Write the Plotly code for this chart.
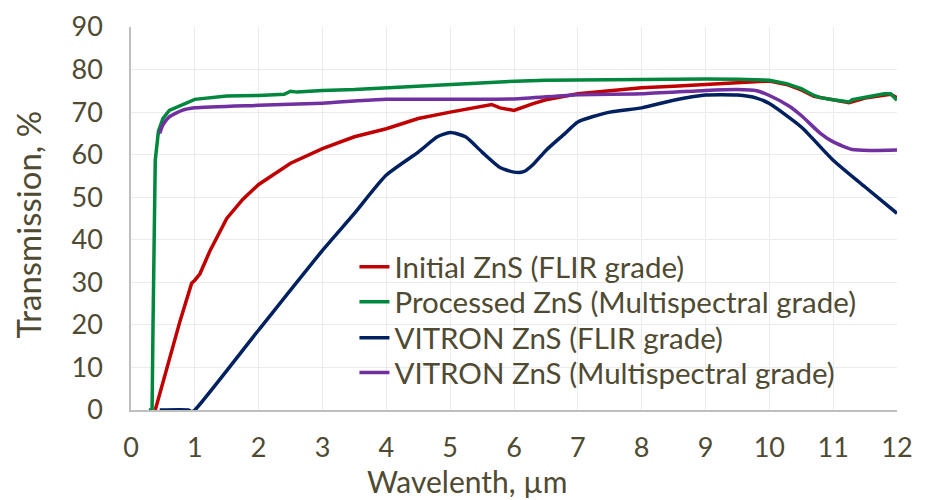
import plotly.graph_objects as go

# ---- data ----
initial_x = [0.38, 0.5, 0.6, 0.77, 0.95, 1.0, 1.08, 1.24, 1.5, 1.75, 2.0, 2.5, 3.0, 3.5, 4.0, 4.5, 5.0, 5.5, 5.65, 5.78, 6.0, 6.3, 6.5, 7.0, 7.5, 8.0, 8.5, 9.0, 9.5, 10.0, 10.27, 10.5, 10.7, 11.0, 11.25, 11.5, 11.8, 11.9, 12.0]
initial_y = [0, 6.5, 12, 21, 29.8, 30.5, 32, 37.5, 45.0, 49.5, 53, 58, 61.4, 64.2, 66.1, 68.5, 70.0, 71.4, 71.8, 71.0, 70.4, 72.0, 72.9, 74.3, 75.1, 75.7, 76.1, 76.5, 76.9, 77.3, 76.5, 75.2, 73.7, 72.8, 72.2, 73.3, 74.1, 74.2, 73.4]

processed_x = [0.28, 0.33, 0.345, 0.36, 0.38, 0.43, 0.5, 0.6, 0.8, 1.0, 1.5, 2.0, 2.4, 2.5, 2.6, 3.0, 3.5, 4.0, 4.5, 5.0, 5.5, 5.78, 6.5, 7.0, 8.0, 8.5, 9.0, 9.5, 10.0, 10.27, 10.5, 10.7, 10.8, 11.0, 11.25, 11.3, 11.5, 11.8, 11.9, 12.0]
processed_y = [0, 0, 20, 45, 58.7, 65.5, 68.5, 70.4, 71.8, 73.0, 73.8, 73.9, 74.2, 74.9, 74.7, 75.1, 75.3, 75.7, 76.1, 76.5, 76.9, 77.1, 77.5, 77.6, 77.7, 77.9, 77.8, 77.7, 77.5, 76.7, 75.5, 73.9, 73.4, 72.9, 72.4, 72.9, 73.5, 74.3, 74.3, 72.8]

vitron_flir_x = [0.45, 0.9, 0.95, 1.0, 2.0, 3.0, 3.5, 4.0, 4.5, 4.8, 5.0, 5.24, 5.5, 5.78, 6.0, 6.15, 6.3, 6.5, 6.8, 7.0, 7.5, 8.0, 8.5, 9.0, 9.5, 9.8, 10.0, 10.5, 11.0, 11.5, 12.0]
vitron_flir_y = [0, 0, -0.4, 0, 18.8, 37.5, 46.2, 55.2, 60.6, 64.2, 65.2, 64.2, 60.6, 57.0, 55.9, 56.0, 57.7, 61.0, 65.0, 67.7, 70.0, 71.0, 72.8, 74.0, 74.0, 73.3, 72.0, 66.5, 58.7, 52.4, 46.2]

vitron_ms_x = [0.45, 0.5, 0.6, 0.8, 1.0, 2.0, 3.0, 3.5, 4.0, 5.0, 6.0, 7.0, 8.0, 9.0, 9.5, 9.8, 10.0, 10.3, 10.5, 10.8, 11.0, 11.3, 11.6, 12.0]
vitron_ms_y = [65, 67, 68.9, 70.4, 71.0, 71.6, 72.1, 72.6, 73.0, 73.0, 73.1, 74.1, 74.3, 75.1, 75.3, 75.0, 73.9, 71.5, 69.2, 65.0, 63.0, 61.2, 61.0, 61.1]

names = ["Initial ZnS (FLIR grade)", "Processed ZnS (Multispectral grade)",
         "VITRON ZnS (FLIR grade)", "VITRON ZnS (Multispectral grade)"]
colors = ["#C00000", "#00873E", "#002060", "#7030A0"]
shapes_ = ["linear", "linear", "spline", "spline"]

x_ticks = list(range(0, 13))
y_ticks = list(range(0, 91, 10))

TXT = "#4F4A32"
FONT = "Lato"

legend_ids = ["legend", "legend2", "legend3", "legend4"]
legend_rows_y = [0.373, 0.282, 0.188, 0.097]   # paper y of each legend row

fig = go.Figure()
series = [(initial_x, initial_y), (processed_x, processed_y),
          (vitron_flir_x, vitron_flir_y), (vitron_ms_x, vitron_ms_y)]
for (xs, ys), nm, c, lg, sh in zip(series, names, colors, legend_ids, shapes_):
    fig.add_trace(go.Scatter(x=xs, y=ys, name=nm, mode="lines", legend=lg,
                             line=dict(color=c, width=3.5, shape=sh,
                                       smoothing=0.6 if sh == "spline" else None)))

legend_common = dict(x=0.2917, xanchor="left", yanchor="middle",
                     bgcolor="rgba(0,0,0,0)", borderwidth=0,
                     font=dict(family=FONT, size=29.5, color=TXT))

fig.update_layout(
    width=933, height=500,
    margin=dict(l=123, r=44, t=19, b=98),
    paper_bgcolor="white", plot_bgcolor="white",
    font=dict(family=FONT, color=TXT, size=26),
    showlegend=True,
    **{lg: dict(legend_common, y=yy) for lg, yy in zip(legend_ids, legend_rows_y)},
    xaxis=dict(range=[0, 12], tickvals=x_ticks, showgrid=True,
               gridcolor="#EBEBEB", gridwidth=1, showline=True,
               linecolor="#BFBFBF", linewidth=1.5, zeroline=False,
               ticks="", ticklabelstandoff=13, automargin=False,
               tickfont=dict(family=FONT, size=27, color=TXT)),
    yaxis=dict(range=[0, 90], tickvals=y_ticks, showgrid=True,
               gridcolor="#EBEBEB", gridwidth=1, showline=True,
               linecolor="#BFBFBF", linewidth=1.5, zeroline=False,
               ticks="", ticklabelstandoff=21, automargin=False,
               tickfont=dict(family=FONT, size=27, color=TXT)),
    annotations=[
        dict(text="Transmission, %", xref="paper", yref="paper",
             x=-0.134, y=0.485, xanchor="center", yanchor="middle",
             textangle=-90, showarrow=False,
             font=dict(family=FONT, size=33, color=TXT)),
        dict(text="Wavelenth, µm", xref="paper", yref="paper",
             x=0.439, y=-0.186, xanchor="center", yanchor="middle",
             showarrow=False,
             font=dict(family=FONT, size=30, color=TXT)),
    ],
)

fig.write_html("out.html")
